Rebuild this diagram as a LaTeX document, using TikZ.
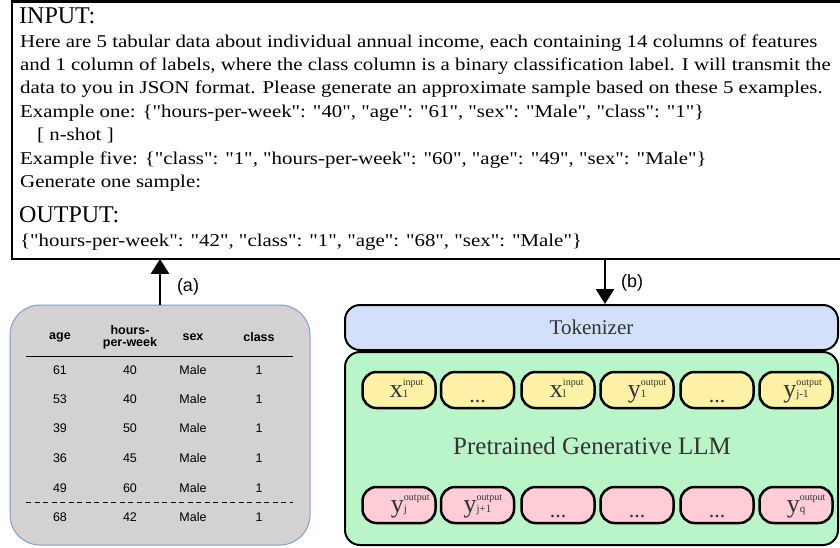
\documentclass[tikz,border=0pt]{standalone}
\usepackage{fontspec}
\setmainfont{Liberation Serif}
\setsansfont{Liberation Sans}
\newfontfamily\bodyfont[FakeStretch=1.16]{Liberation Serif}
\usetikzlibrary{arrows.meta}
\definecolor{tabgrey}{HTML}{D3D1D1}
\definecolor{tabedge}{HTML}{7F9FD0}
\definecolor{tokblue}{HTML}{D3E0FB}
\definecolor{llmgreen}{HTML}{B9F5C9}
\definecolor{tokyellow}{HTML}{FFF2A6}
\definecolor{tokpink}{HTML}{FFCDD6}
\definecolor{txtgrey}{HTML}{333333}
\newcommand\tkn[3]{{\fontsize{26}{26}\selectfont #1}\sbox0{\fontsize{10}{10}\selectfont #2}\sbox2{\fontsize{11}{11}\selectfont #3}\rlap{\raisebox{12pt}{\usebox0}}\usebox2\ifdim\wd0>\wd2 \hspace{\dimexpr\wd0-\wd2\relax}\fi}
\tikzset{
  body/.style={anchor=base west, inner sep=0pt, font=\bodyfont\fontsize{18}{18}\selectfont},
  head/.style={anchor=base west, inner sep=0pt, font=\fontsize{24}{24}\selectfont},
  arr/.style={line width=2.5pt, -{Triangle[width=18pt,length=15pt]}},
  lbl/.style={font=\sffamily\fontsize{18}{18}\selectfont, inner sep=0pt},
  tabbox/.style={draw=tabedge, line width=1pt, fill=tabgrey, rounded corners=30pt, minimum width=300pt, minimum height=240pt},
  th/.style={font=\sffamily\bfseries\fontsize{12.5}{13}\selectfont, align=center, inner sep=0pt},
  td/.style={font=\sffamily\fontsize{12.5}{13}\selectfont, inner sep=0pt},
  bigbox/.style={draw=black, line width=2pt, rounded corners=15pt, minimum width=493pt},
  ytok/.style={draw=black, line width=2.5pt, fill=tokyellow, rounded corners=14pt, minimum width=73pt, minimum height=36pt},
  ptok/.style={draw=black, line width=2.5pt, fill=tokpink, rounded corners=14pt, minimum width=73pt, minimum height=36pt},
  tl/.style={anchor=base, inner sep=0pt, text=txtgrey},
  dots/.style={anchor=base, inner sep=0pt, text=txtgrey, font=\fontsize{22}{22}\selectfont},
}
\begin{document}
\begin{tikzpicture}[x=1pt,y=-1pt]
\useasboundingbox (0,0) rectangle (840,547);
\fill[white] (0,0) rectangle (840,547);
% prompt box (open on the right, runs past the edge)
\node[minimum width=880pt, minimum height=257pt, anchor=north west, inner sep=0pt] (prompt) at (12,1.5) {};
\draw[line width=2.5pt] (prompt.north east) -- (prompt.north west) -- (prompt.south west) -- (prompt.south east);
\node[head] (l1) at (19,23) {INPUT:};
\node[body] (l2) at (20,47) {Here are 5 tabular data about individual annual income, each containing 14 columns of features};
\node[body] (l3) at (20,70.4) {and 1 column of labels, where the class column is a binary classification label. I will transmit the};
\node[body] (l4) at (20,93.8) {data to you in JSON format. Please generate an approximate sample based on these 5 examples.};
\node[body] (l5) at (20,117.2) {Example one: \{"hours-per-week": "40", "age": "61", "sex": "Male", "class": "1"\}};
\node[body] (l6) at (37,140.6) {[ n-shot ]};
\node[body] (l7) at (20,164) {Example five: \{"class": "1", "hours-per-week": "60", "age": "49", "sex": "Male"\}};
\node[body] (l8) at (20,187.4) {Generate one sample:};
\node[head] (l9) at (19,222) {OUTPUT:};
\node[body] (l10) at (20,246) {\{"hours-per-week": "42", "class": "1", "age": "68", "sex": "Male"\}};
% table
\node[tabbox] (table) at (160,425) {};
\node[th] (hage) at (60,337) {age};
\node[th] (hhrs) at (130,337) {hours-\\[-1pt]per-week};
\node[th] (hsex) at (193,337) {sex};
\node[th] (hcls) at (259,337) {class};
\draw[line width=0.8pt] (26,356) -- (293,356);
\draw[line width=0.8pt, dash pattern=on 5pt off 3.5pt] (26,502) -- (293,502);
\foreach \a/\h/\yy [count=\i] in {61/40/370,53/40/399,39/50/428,36/45/458,49/60/488,68/42/517}{
  \node[td] (ra\i) at (60,\yy) {\a};
  \node[td] (rh\i) at (130,\yy) {\h};
  \node[td] (rs\i) at (193,\yy) {Male};
  \node[td] (rc\i) at (259,\yy) {1};
}
\draw[arr] (table.north) -- (table.north |- prompt.south);
\node[lbl] (la) at (188,287) {(a)};
% tokenizer and LLM
\node[bigbox, fill=tokblue, minimum height=45pt] (tok) at (591.5,327.5) {};
\node[font=\fontsize{21}{21}\selectfont, text=txtgrey] (tokt) at (tok.center) {Tokenizer};
\node[bigbox, fill=llmgreen, minimum height=193pt] (llm) at (591.5,448.5) {};
\node[font=\fontsize{25}{25}\selectfont, text=txtgrey] (llmt) at (592,446) {Pretrained Generative LLM};
\coordinate (bs) at (605,259);
\draw[arr] (bs) -- (bs |- tok.north);
\node[lbl] (lb) at (632,283) {(b)};
% tokens
\foreach \cx [count=\i] in {399,477.5,558,637,717,796}{
  \node[ytok] (yt\i) at (\cx,390) {};
  \node[ptok] (pt\i) at (\cx,505) {};
}
\node[tl] (yl1) at (399,397) {\tkn{x}{input}{1}};
\node[dots] (yl2) at (477.5,402) {...};
\node[tl] (yl3) at (558,397) {\tkn{x}{input}{l}};
\node[tl] (yl4) at (637,397) {\tkn{y}{output}{1}};
\node[dots] (yl5) at (717,402) {...};
\node[tl] (yl6) at (796,397) {\tkn{y}{output}{j-1}};
\node[tl] (pl1) at (399,512) {\tkn{y}{output}{j}};
\node[tl] (pl2) at (477.5,512) {\tkn{y}{output}{j+1}};
\node[dots] (pl3) at (558,517) {...};
\node[dots] (pl4) at (637,517) {...};
\node[dots] (pl5) at (717,517) {...};
\node[tl] (pl6) at (796,512) {\tkn{y}{output}{q}};
\end{tikzpicture}
\end{document}
